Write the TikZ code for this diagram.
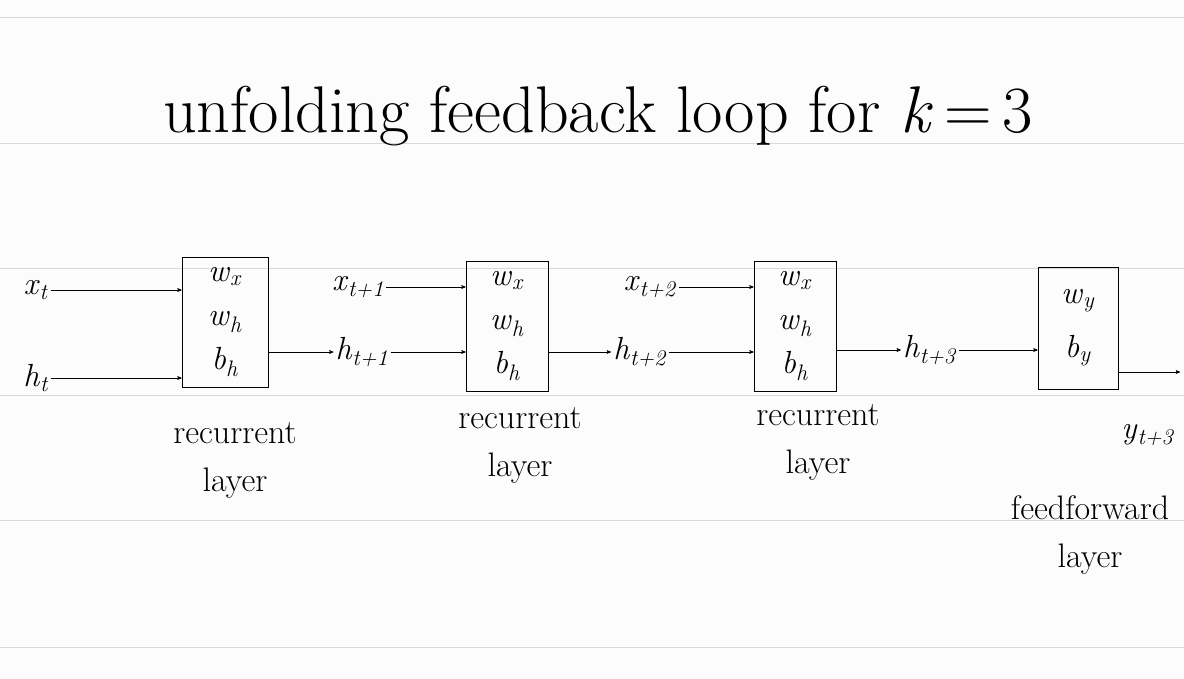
\documentclass[tikz,border=0pt]{standalone}
\usepackage{fontspec}
\usetikzlibrary{arrows,positioning}
\newcommand{\ix}[2]{\textit{#1}\textsubscript{\textit{#2}}}
\begin{document}
\begin{tikzpicture}[x=1pt,y=-1pt,->,>=stealth',semithick,
    cell/.style={rectangle,draw=black,thick,minimum width=86pt,minimum height=130pt,align=center,font=\fontsize{32}{44}\selectfont},
    tag/.style={font=\fontsize{32}{36}\selectfont,inner sep=2pt},
    note/.style={font=\fontsize{34}{48}\selectfont,align=center}]
  \useasboundingbox[fill=black!1] (0,0) rectangle (1184,679);
  % ruled paper
  \foreach \yy in {17,143,268,395,520,647}
    \draw[-,black!15,thick] (0,\yy) -- (1184,\yy);

  \node[font=\fontsize{66}{70}\selectfont] (title) at (598,116) {unfolding feedback loop for \textit{k}\,=\,3};

  \node[cell] (B1) at (225,322) {\ix{w}{x}\\\ix{w}{h}\\\ix{b}{h}};
  \node[cell,minimum width=82pt] (B2) at (507,326) {\ix{w}{x}\\\ix{w}{h}\\\ix{b}{h}};
  \node[cell,minimum width=82pt] (B3) at (795,326) {\ix{w}{x}\\\ix{w}{h}\\\ix{b}{h}};
  \node[cell,minimum width=80pt,minimum height=122pt,font=\fontsize{32}{54}\selectfont] (B4) at (1078,328) {\ix{w}{y}\\\ix{b}{y}};

  \node[tag] (xt)  at (36,290)  {\ix{x}{t}};
  \node[tag] (ht)  at (36,378)  {\ix{h}{t}};
  \node[tag] (xt1) at (358,287) {\ix{x}{t+1}};
  \node[tag] (ht1) at (362,352) {\ix{h}{t+1}};
  \node[tag] (xt2) at (650,287) {\ix{x}{t+2}};
  \node[tag] (ht2) at (640,352) {\ix{h}{t+2}};
  \node[tag] (ht3) at (930,350) {\ix{h}{t+3}};
  \node[tag] (yt3) at (1148,435) {\ix{y}{t+3}};
  \coordinate (out) at (1180,372);

  \draw (xt) -- (B1.west |- xt);
  \draw (ht) -- (B1.west |- ht);
  \draw (B1.east |- ht1) -- (ht1);
  \draw (xt1) -- (B2.west |- xt1);
  \draw (ht1) -- (B2.west |- ht1);
  \draw (B2.east |- ht2) -- (ht2);
  \draw (xt2) -- (B3.west |- xt2);
  \draw (ht2) -- (B3.west |- ht2);
  \draw (B3.east |- ht3) -- (ht3);
  \draw (ht3) -- (B4.west |- ht3);
  \draw (B4.east |- out) -- (out);

  \node[note] (L1) at (235,460) {recurrent\\layer};
  \node[note] (L2) at (520,445) {recurrent\\layer};
  \node[note] (L3) at (818,442) {recurrent\\layer};
  \node[note] (L4) at (1090,535) {feedforward\\layer};
\end{tikzpicture}
\end{document}
